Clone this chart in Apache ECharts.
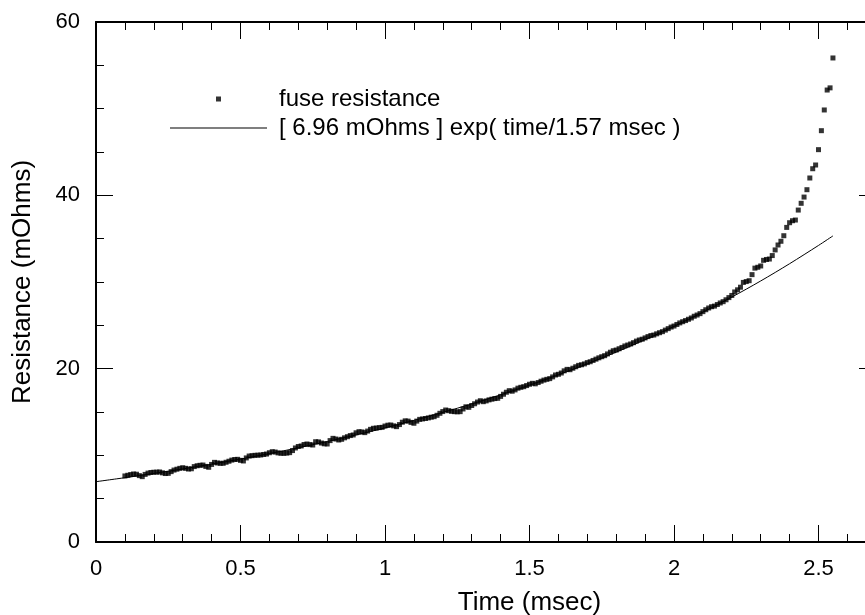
<!DOCTYPE html>
<html><head><meta charset="utf-8">
<script src="https://cdn.jsdelivr.net/npm/echarts@6/dist/echarts.min.js"></script>
<style>html,body{margin:0;padding:0;background:#fff}#c{width:865px;height:615px}</style>
</head><body><div id="c"></div>
<script>
// measured fuse resistance (mOhms), sampled every 0.01 ms starting at 0.10 ms
const sampleStart = 0.10;
const sampleStep = 0.01;
const resistance = [
7.62,7.70,7.78,7.85,7.82,7.66,7.54,7.80,7.95,8.02,
8.05,8.06,8.08,7.98,7.90,7.92,8.12,8.30,8.40,8.50,
8.57,8.50,8.42,8.45,8.70,8.80,8.85,8.88,8.72,8.62,
8.95,9.19,9.12,9.08,9.08,9.20,9.32,9.45,9.52,9.54,
9.42,9.35,9.70,9.92,9.96,10.00,10.02,10.04,10.10,10.15,
10.30,10.42,10.38,10.28,10.24,10.23,10.26,10.31,10.55,10.85,
11.02,11.08,11.25,11.31,11.24,11.19,11.57,11.55,11.42,11.33,
11.31,11.70,11.96,11.88,11.77,11.85,12.02,12.15,12.28,12.35,
12.60,12.73,12.70,12.62,12.80,13.00,13.12,13.15,13.20,13.23,
13.38,13.48,13.50,13.40,13.31,13.55,13.82,13.98,13.95,13.80,
13.70,13.95,14.15,14.20,14.25,14.32,14.40,14.46,14.62,14.85,
15.05,15.23,15.15,15.08,15.04,15.02,15.04,15.35,15.60,15.54,
15.75,15.95,16.15,16.30,16.19,16.28,16.40,16.48,16.55,16.58,
16.80,17.05,17.28,17.46,17.40,17.55,17.75,17.85,17.92,18.05,
18.20,18.31,18.25,18.40,18.55,18.68,18.77,18.85,19.05,19.27,
19.35,19.50,19.75,19.92,19.88,20.05,20.22,20.38,20.45,20.55,
20.70,20.80,20.95,21.10,21.25,21.38,21.50,21.70,21.90,22.07,
22.15,22.30,22.45,22.62,22.73,22.85,23.00,23.18,23.31,23.40,
23.55,23.70,23.82,23.88,24.02,24.15,24.27,24.45,24.62,24.80,
24.92,25.10,25.28,25.42,25.55,25.70,25.85,26.05,26.19,26.35,
26.58,26.80,27.00,27.15,27.22,27.40,27.58,27.73,27.95,28.20,
28.45,28.85,29.10,29.40,29.95,30.05,30.15,30.85,31.60,31.70,
31.85,32.50,32.60,32.65,33.05,33.70,34.27,34.70,35.34,36.30,
36.84,37.07,37.15,38.30,39.08,39.80,40.65,42.00,43.07,43.50,
45.27,47.46,49.85,52.15,52.40,55.85
];
// fitted curve read at these times
const fitTime = [0,0.1,0.2,0.3,0.4,0.5,0.6,0.7,0.8,0.9,1.0,1.1,1.2,1.3,1.4,1.5,1.6,1.7,1.8,1.9,2.0,2.1,2.2,2.3,2.4,2.5,2.55];
const fitValue = [6.96,7.42,7.91,8.43,8.98,9.57,10.20,10.87,11.59,12.35,13.16,14.03,14.95,15.93,16.98,18.10,19.29,20.56,21.91,23.35,24.88,26.52,28.26,30.12,32.11,34.22,35.32];
const xTickLabels = ['0','0.5','1','1.5','2','2.5'];
const yTickLabels = ['0','20','40','60'];
const seriesNames = ['fuse resistance','[ 6.96 mOhms ] exp( time/1.57 msec )'];

const scatterData = resistance.map((v,i)=>[+(sampleStart + i*sampleStep).toFixed(2), v]);
const lineData = fitTime.map((t,i)=>[t, fitValue[i]]);

const FONT = 'Liberation Sans, Arial, sans-serif';
const tickStyle = {show:true, inside:true, length:17, lineStyle:{color:'#000', width:1}};
const minorStyle = {show:true, length:8, lineStyle:{color:'#000', width:1}};
const legendText = {fontFamily:FONT, fontSize:24, color:'#000', lineHeight:28, padding:[0,0,0,7]};
const chart = echarts.init(document.getElementById('c'), null, {renderer:'canvas'});
chart.setOption({
  animation:false,
  backgroundColor:'#fff',
  grid:{left:96, top:22, width:867, height:520, containLabel:false, outerBoundsMode:'none'},
  legend:[
    {data:[{name:seriesNames[0], icon:'path://M0,0H1V1H0Z'}], orient:'vertical', left:216, top:85, padding:0,
     itemWidth:97, itemHeight:5, itemGap:0, symbolKeepAspect:true, textStyle:legendText},
    {data:[{name:seriesNames[1], icon:'path://M0,0H100V1H0Z'}], orient:'vertical', left:170, top:114, padding:0,
     itemWidth:97, itemHeight:14, itemGap:0, symbolKeepAspect:true, textStyle:legendText}
  ],
  xAxis:[
    {type:'value', min:0, max:3, interval:0.5, position:'bottom',
     name:'Time (msec)', nameLocation:'middle', nameGap:48,
     nameTextStyle:{fontFamily:FONT, fontSize:26, color:'#000'},
     axisLine:{show:true, onZero:false, lineStyle:{color:'#000', width:2}},
     axisTick:tickStyle, minorTick:Object.assign({splitNumber:5}, minorStyle),
     splitLine:{show:false}, minorSplitLine:{show:false},
     axisLabel:{fontFamily:FONT, fontSize:22, color:'#000', margin:16,
       formatter:v=>{const s=String(+v.toFixed(1)); return xTickLabels.indexOf(s)>=0?s:'';}}},
    {type:'value', min:0, max:3, interval:0.5, position:'top',
     axisLine:{show:true, onZero:false, lineStyle:{color:'#000', width:2}},
     axisTick:tickStyle, minorTick:Object.assign({splitNumber:5}, minorStyle),
     splitLine:{show:false}, axisLabel:{show:false}}
  ],
  yAxis:[
    {type:'value', min:0, max:60, interval:20, position:'left',
     name:'Resistance (mOhms)', nameLocation:'middle', nameGap:60,
     nameTextStyle:{fontFamily:FONT, fontSize:26, color:'#000'},
     axisLine:{show:true, onZero:false, lineStyle:{color:'#000', width:2}},
     axisTick:tickStyle, minorTick:Object.assign({splitNumber:4}, minorStyle),
     splitLine:{show:false},
     axisLabel:{fontFamily:FONT, fontSize:22, color:'#000', margin:16,
       formatter:v=>{const s=String(v); return yTickLabels.indexOf(s)>=0?s:'';}}},
    {type:'value', min:0, max:60, interval:20, position:'right', offset:-87,
     axisLine:{show:true, onZero:false, lineStyle:{color:'#000', width:2}},
     axisTick:tickStyle, minorTick:Object.assign({splitNumber:4}, minorStyle),
     splitLine:{show:false}, axisLabel:{show:false}}
  ],
  series:[
    {name:seriesNames[0], type:'scatter', xAxisIndex:0, yAxisIndex:0,
     symbol:'rect', symbolSize:5, itemStyle:{color:'#000'}, data:scatterData, z:3},
    {name:seriesNames[1], type:'line', xAxisIndex:0, yAxisIndex:0,
     showSymbol:false, symbol:'none', smooth:0.3, lineStyle:{color:'#000', width:1},
     itemStyle:{color:'#000'}, data:lineData, z:2}
  ]
});
</script></body></html>
